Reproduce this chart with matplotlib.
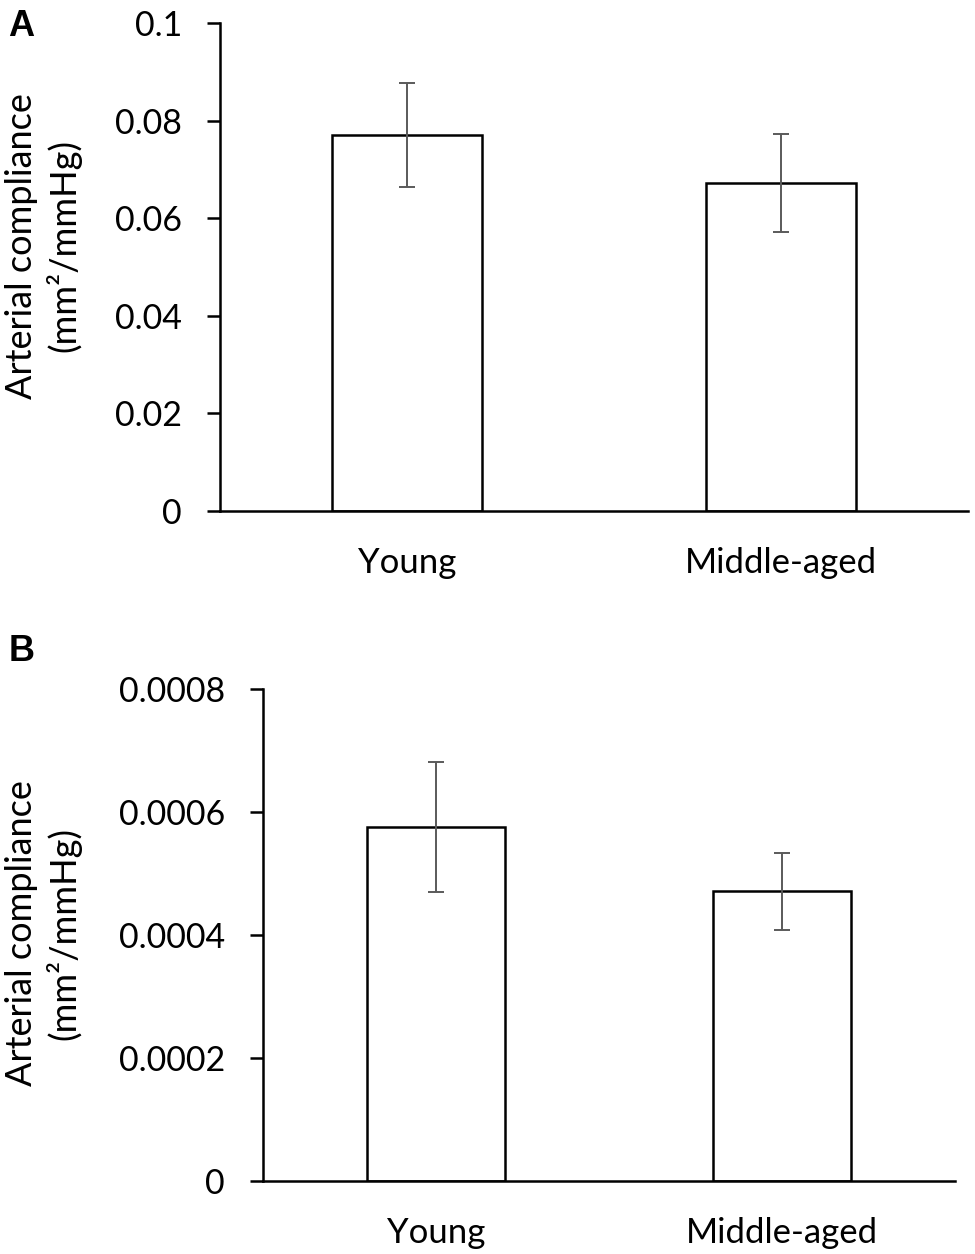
import matplotlib
matplotlib.use('Agg')
import matplotlib.pyplot as plt
import numpy as np

# ---- data ----
categories = ['Young', 'Middle-aged']
values_a = [0.0770, 0.0672]
errors_a = [0.0107, 0.0100]
values_b = [0.000576, 0.000471]
errors_b = [0.000106, 0.000063]
yticks_a = [0, 0.02, 0.04, 0.06, 0.08, 0.1]
yticklabels_a = ['0', '0.02', '0.04', '0.06', '0.08', '0.1']
yticks_b = [0, 0.0002, 0.0004, 0.0006, 0.0008]
yticklabels_b = ['0', '0.0002', '0.0004', '0.0006', '0.0008']
ylabel_text = 'Arterial compliance\n(mm\u00b2/mmHg)'
panel_labels = ['A', 'B']

plt.rcParams['font.family'] = ['Lato', 'DejaVu Sans']

W, H = 975, 1254
fig = plt.figure(figsize=(W / 100, H / 100), dpi=100)
fig.patch.set_facecolor('white')

ax_a = fig.add_axes([220 / W, 1 - 511 / H, 748 / W, 488 / H])
ax_b = fig.add_axes([263 / W, 1 - 1181 / H, 692 / W, 492 / H])


def draw(ax, vals, errs, ticks, ticklabels):
    x = np.arange(len(categories))
    ax.bar(x, vals, width=0.4, color='white', edgecolor='black', linewidth=1.8,
           yerr=errs, error_kw=dict(ecolor='#5a5a5a', elinewidth=1.4,
                                    capsize=6, capthick=1.4), zorder=2)
    ax.set_xlim(-0.5, len(categories) - 0.5)
    ax.set_ylim(0, ticks[-1])
    ax.set_xticks(x)
    ax.set_xticklabels(categories)
    ax.set_yticks(ticks)
    ax.set_yticklabels(ticklabels)
    for s in ['top', 'right']:
        ax.spines[s].set_visible(False)
    for s in ['left', 'bottom']:
        ax.spines[s].set_linewidth(1.8)
        ax.spines[s].set_color('black')
        ax.spines[s].set_zorder(3)
    ax.tick_params(axis='y', length=9.5, width=1.8, pad=18, labelsize=24.5,
                   colors='black')
    ax.tick_params(axis='x', length=0, pad=26, labelsize=25, colors='black')
    ax.set_facecolor('none')


draw(ax_a, values_a, errors_a, yticks_a, yticklabels_a)
draw(ax_b, values_b, errors_b, yticks_b, yticklabels_b)

fig.text(43 / W, 1 - 246 / H, ylabel_text, rotation=90, ha='center', va='center',
         fontsize=26, linespacing=1.25, multialignment='center')
fig.text(43 / W, 1 - 933 / H, ylabel_text, rotation=90, ha='center', va='center',
         fontsize=26, linespacing=1.25, multialignment='center')

fig.text(8 / W, 1 - 36 / H, panel_labels[0], fontweight='bold',
         family=['Liberation Sans', 'DejaVu Sans'], fontsize=26,
         ha='left', va='baseline')
fig.text(9 / W, 1 - 661 / H, panel_labels[1], fontweight='bold',
         family=['Liberation Sans', 'DejaVu Sans'], fontsize=26,
         ha='left', va='baseline')

fig.savefig('out.png', dpi=100, facecolor='white')
